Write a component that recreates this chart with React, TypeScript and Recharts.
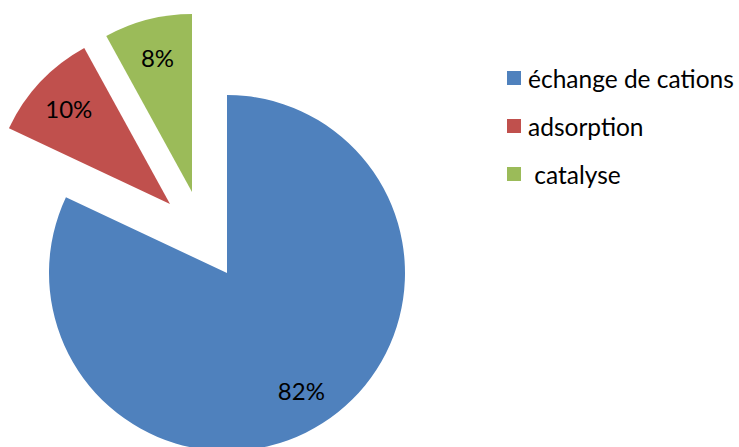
import { Cell, Legend, Pie, PieChart } from "recharts";

const categories = ["échange de cations", "adsorption", " catalyse"];
const shares = [82, 10, 8];
const labels = ["82%", "10%", "8%"];
const colors = ["#4F81BD", "#C0504D", "#9BBB59"];

// each slice gets its own pie so the two small ones can be pulled out
// (centres are inside the chart's 5px margin)
const sliceCenters = [
  { cx: 222, cy: 268 },
  { cx: 165, cy: 199 },
  { cx: 187, cy: 187 },
];

const data = categories.map((name, i) => ({ name, value: shares[i] }));

const FONT = "Lato, 'Open Sans', sans-serif";
const RAD = Math.PI / 180;

function sliceLabel(visible: number) {
  return (props: any) => {
    if (props.index !== visible) return null;
    const { cx, cy, midAngle, outerRadius } = props;
    const r = outerRadius * 0.78;
    const x = cx + r * Math.cos(-midAngle * RAD);
    const y = cy + r * Math.sin(-midAngle * RAD);
    return (
      <text
        x={x}
        y={y}
        textAnchor="middle"
        dominantBaseline="central"
        fill="#000"
        fontSize={24}
        fontFamily={FONT}
      >
        {labels[props.index]}
      </text>
    );
  };
}

function LegendBox() {
  return (
    <div style={{ fontFamily: FONT, fontSize: 24.5, color: "#000" }}>
      {categories.map((c, i) => (
        <div
          key={c}
          style={{ display: "flex", alignItems: "center", height: 48 }}
        >
          <span
            style={{
              display: "inline-block",
              width: 14,
              height: 14,
              background: colors[i],
              marginRight: 7,
            }}
          />
          <span style={{ whiteSpace: "pre" }}>{c}</span>
        </div>
      ))}
    </div>
  );
}

export default function App() {
  return (
    <div style={{ position: "absolute", left: 0, top: 0, background: "#fff" }}>
      <PieChart width={739} height={447}>
        {sliceCenters.map((c, k) => (
          <Pie
            key={k}
            data={data}
            dataKey="value"
            nameKey="name"
            cx={c.cx}
            cy={c.cy}
            outerRadius={178}
            startAngle={90}
            endAngle={-270}
            stroke="none"
            labelLine={false}
            label={sliceLabel(k)}
            isAnimationActive={false}
          >
            {data.map((d, i) => (
              <Cell key={d.name} fill={i === k ? colors[i] : "transparent"} />
            ))}
          </Pie>
        ))}
        <Legend
          content={() => <LegendBox />}
          layout="vertical"
          wrapperStyle={{ left: 507, top: 54, width: 232 }}
        />
      </PieChart>
    </div>
  );
}
